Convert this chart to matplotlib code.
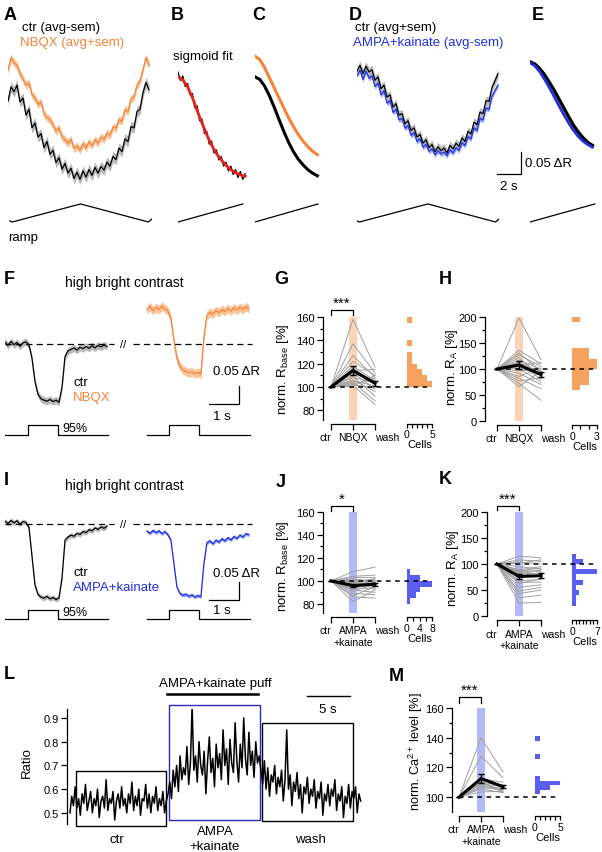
import numpy as np
import matplotlib
matplotlib.use('Agg')
import matplotlib.pyplot as plt
from matplotlib.patches import Rectangle

# ---------------- row 1: ramp responses (dR), one value every 0.25 s
a_ctr = [0.200, 0.232, 0.221, 0.236, 0.198, 0.207, 0.168, 0.181,
         0.139, 0.150, 0.118, 0.126, 0.094, 0.108, 0.079, 0.088,
         0.060, 0.071, 0.045, 0.058, 0.036, 0.047, 0.024, 0.038,
         0.022, 0.041, 0.027, 0.044, 0.031, 0.049, 0.036, 0.051,
         0.043, 0.061, 0.052, 0.074, 0.067, 0.093, 0.085, 0.114,
         0.108, 0.142, 0.139, 0.176, 0.181, 0.219, 0.242, 0.226]
a_nbqx = [0.270, 0.298, 0.287, 0.281, 0.262, 0.250, 0.236, 0.241,
          0.214, 0.207, 0.192, 0.198, 0.171, 0.162, 0.158, 0.146,
          0.131, 0.139, 0.118, 0.112, 0.104, 0.113, 0.092, 0.098,
          0.088, 0.103, 0.094, 0.107, 0.099, 0.112, 0.104, 0.118,
          0.113, 0.127, 0.122, 0.141, 0.138, 0.158, 0.154, 0.181,
          0.176, 0.205, 0.209, 0.236, 0.245, 0.272, 0.299, 0.281]
d_ctr = [0.268, 0.281, 0.262, 0.279, 0.266, 0.271, 0.247, 0.255,
         0.228, 0.236, 0.209, 0.214, 0.186, 0.194, 0.168, 0.171,
         0.148, 0.155, 0.133, 0.139, 0.118, 0.124, 0.104, 0.112,
         0.094, 0.101, 0.085, 0.096, 0.087, 0.093, 0.082, 0.099,
         0.091, 0.104, 0.097, 0.116, 0.108, 0.131, 0.125, 0.152,
         0.146, 0.175, 0.171, 0.201, 0.199, 0.231, 0.246, 0.262]
d_ampa = [0.258, 0.270, 0.249, 0.268, 0.252, 0.257, 0.233, 0.241,
          0.214, 0.223, 0.195, 0.201, 0.174, 0.181, 0.157, 0.160,
          0.138, 0.144, 0.122, 0.128, 0.108, 0.114, 0.095, 0.101,
          0.086, 0.091, 0.078, 0.087, 0.080, 0.084, 0.076, 0.089,
          0.082, 0.094, 0.088, 0.105, 0.099, 0.119, 0.114, 0.139,
          0.133, 0.160, 0.157, 0.184, 0.181, 0.211, 0.224, 0.236]
# B: first half of ctr, every 0.2 s, and its sigmoid fit every 0.4 s
b_ctr = [0.266, 0.247, 0.257, 0.233, 0.240, 0.214, 0.217, 0.184, 0.189, 0.155,
         0.159, 0.126, 0.131, 0.102, 0.109, 0.082, 0.089, 0.066, 0.074, 0.052,
         0.061, 0.041, 0.052, 0.033, 0.044, 0.026, 0.040, 0.022, 0.035]
b_fit = [0.255, 0.248, 0.232, 0.208, 0.178, 0.150, 0.123, 0.100,
         0.081, 0.066, 0.054, 0.044, 0.037, 0.032, 0.029]
# C, E: fitted curves every 0.4 s
c_ctr = [0.255, 0.249, 0.234, 0.212, 0.186, 0.158, 0.131,
         0.106, 0.085, 0.068, 0.055, 0.044, 0.036, 0.030]
c_nbqx = [0.302, 0.294, 0.276, 0.253, 0.230, 0.207, 0.184,
          0.162, 0.142, 0.124, 0.109, 0.096, 0.086, 0.078]
e_ctr = [0.289, 0.284, 0.274, 0.260, 0.243, 0.225, 0.205,
         0.185, 0.165, 0.146, 0.130, 0.117, 0.106, 0.099]
e_ampa = [0.287, 0.280, 0.267, 0.250, 0.231, 0.211, 0.190,
          0.170, 0.151, 0.134, 0.120, 0.109, 0.101, 0.095]
ramp_t = [0, 0.2, 5.9, 11.55, 11.8]
ramp_lvl = [0.06, 0, 1, 0, 0.15]

# ---------------- step responses (dR), every 0.1 s
f_ctr = [0.005, -0.004, 0.007, -0.002, 0.004, -0.006, 0.003, 0.006, -0.003, -0.040,
         -0.105, -0.140, -0.152, -0.156, -0.159, -0.154, -0.160, -0.156, -0.162, -0.120,
         -0.035, -0.019, -0.015, -0.011, -0.017, -0.009, -0.013, -0.007, -0.012, -0.005,
         -0.011, -0.004, -0.008, -0.003, -0.007]
f_nbqx = [0.095, 0.104, 0.093, 0.101, 0.096, 0.105, 0.098, 0.092, 0.070, 0.010,
          -0.040, -0.062, -0.072, -0.076, -0.080, -0.077, -0.083, -0.079, -0.084, 0.020,
          0.080, 0.088, 0.083, 0.093, 0.087, 0.096, 0.090, 0.099, 0.091, 0.101,
          0.094, 0.102, 0.096, 0.104, 0.098]
i_ctr = [0.008, 0.001, 0.010, 0.003, 0.009, -0.001, 0.007, 0.004, -0.010, -0.090,
         -0.170, -0.196, -0.203, -0.206, -0.201, -0.208, -0.204, -0.210, -0.205, -0.150,
         -0.045, -0.036, -0.031, -0.034, -0.026, -0.029, -0.021, -0.024, -0.016, -0.019,
         -0.011, -0.015, -0.008, -0.012, -0.006]
i_ampa = [-0.020, -0.026, -0.018, -0.024, -0.019, -0.027, -0.021, -0.030, -0.045, -0.110,
          -0.175, -0.193, -0.198, -0.195, -0.201, -0.197, -0.203, -0.199, -0.202, -0.110,
          -0.052, -0.047, -0.055, -0.045, -0.050, -0.041, -0.047, -0.038, -0.044, -0.035,
          -0.040, -0.031, -0.036, -0.027, -0.030]
stim_t = [0, 0.75, 0.75, 1.75, 1.75, 3.43]
stim_on = [0, 0, 1, 1, 0, 0]

# ---------------- population data, % of ctr (ctr = 100)
g_nbqx = [158, 137, 127, 122, 118, 116, 114, 112, 111, 109, 108, 106, 105, 104, 103, 102, 101, 100.5]
g_wash = [117, 112, 108, 110, 105, 103, 115, 98, 107, 92, 104, 96, 101, 88, 106, 99, 85, 110]
h_nbqx = [198, 136, 131, 127, 122, 117, 114, 111, 108, 104, 101, 97, 92, 86, 82, 77, 72, 66]
h_wash = [118, 110, 95, 105, 85, 100, 92, 80, 112, 88, 75, 97, 70, 102, 62, 83, 40, 96]
j_ampa = [108, 104, 103, 101.5, 100.5, 99.5, 99, 98.5, 98, 97.5, 97, 96, 95.5, 94, 93, 92, 91, 89, 87, 86, 82]
j_wash = [112, 105, 103, 100, 99, 101, 97, 95, 102, 98, 94, 100, 96, 93, 99, 90, 97, 88, 95, 85, 92]
k_ampa = [115, 108, 104, 101, 95, 89, 88, 87, 86, 84, 83, 81, 75, 68, 65, 62, 55, 48, 43, 35, 25]
k_wash = [112, 105, 100, 108, 90, 95, 85, 92, 80, 88, 75, 82, 78, 70, 65, 72, 60, 55, 50, 40, 26]
m_ampa = [103.5, 105.5, 106.5, 107, 108.5, 109, 109.5, 110, 110.5, 112.5, 127.5, 140]
m_wash = [104, 103, 105, 106, 104, 107, 105, 108, 103, 110, 113, 117]

# ---------------- L: Ca ratio trace, every 0.2 s
l_ctr = [0.50, 0.57, 0.53, 0.61, 0.52, 0.56, 0.49, 0.58, 0.54, 0.62,
         0.51, 0.55, 0.59, 0.50, 0.56, 0.53, 0.60, 0.48, 0.55, 0.57,
         0.52, 0.64, 0.51, 0.56, 0.54, 0.59, 0.47, 0.55, 0.58, 0.52,
         0.61, 0.53, 0.56, 0.50, 0.58, 0.54, 0.63, 0.51, 0.57, 0.53,
         0.60, 0.49, 0.56, 0.55, 0.62, 0.52, 0.58, 0.50, 0.57, 0.54,
         0.61, 0.51, 0.56, 0.53, 0.59, 0.50, 0.55]
l_ampa = [0.58, 0.63, 0.56, 0.68, 0.61, 0.70, 0.59, 0.74, 0.64, 0.69,
          0.66, 0.78, 0.62, 0.71, 0.95, 0.68, 0.74, 0.63, 0.80, 0.70,
          0.66, 0.76, 0.58, 0.72, 0.82, 0.67, 0.73, 0.61, 0.79, 0.69,
          0.75, 0.64, 0.85, 0.70, 0.77, 0.62, 0.81, 0.71, 0.67, 0.88,
          0.72, 0.63, 0.79, 0.69, 0.90, 0.73, 0.66, 0.84, 0.70, 0.76,
          0.65, 0.80, 0.71, 0.74]
l_wash = [0.68, 0.62, 0.72, 0.60, 0.69, 0.57, 0.66, 0.63, 0.70, 0.58,
          0.65, 0.61, 0.68, 0.55, 0.64, 0.85, 0.60, 0.66, 0.53, 0.63,
          0.59, 0.67, 0.56, 0.62, 0.50, 0.61, 0.58, 0.65, 0.54, 0.60,
          0.57, 0.64, 0.52, 0.59, 0.56, 0.63, 0.49, 0.58, 0.55, 0.62,
          0.53, 0.60, 0.57, 0.64, 0.51, 0.58, 0.55, 0.61, 0.48, 0.57,
          0.54, 0.62, 0.52, 0.59, 0.56, 0.61, 0.50, 0.58, 0.55]
# analysis windows (s, ratio): ctr, AMPA+kainate, wash
l_boxes = [(0.7, 11.2, 0.445, 0.678), (11.5, 22.1, 0.470, 0.955), (22.3, 32.9, 0.466, 0.879)]
puff_t = [11.3, 21.9]

ORANGE = '#F5843A'
ORANGE_LT = '#F9C49A'
ORANGE_COL = '#FBD3B6'
ORANGE_HIST = '#F5A25E'
BLUE = '#2030E0'
BLUE_LT = '#9AA4F2'
BLUE_COL = '#B5B8F6'
BLUE_HIST = '#5A5EF0'
GRAY = '#A0A0A0'

plt.rcParams['font.family'] = ['Liberation Sans', 'DejaVu Sans']
plt.rcParams['mathtext.fontset'] = 'custom'
plt.rcParams['mathtext.rm'] = 'Liberation Sans'
plt.rcParams['mathtext.it'] = 'Liberation Sans:italic'
plt.rcParams['axes.linewidth'] = 0.9
plt.rcParams['axes.facecolor'] = 'none'
plt.rcParams['xtick.labelsize'] = 7.5
plt.rcParams['ytick.labelsize'] = 8

W, H = 602, 853
fig = plt.figure(figsize=(W / 100, H / 100), dpi=100)


def px_axes(x0, y0, x1, y1):
    return fig.add_axes([x0 / W, 1 - y1 / H, (x1 - x0) / W, (y1 - y0) / H])


def px_text(x, y, s, **kw):
    kw.setdefault('fontsize', 9.5)
    kw.setdefault('va', 'center')
    return fig.text(x / W, 1 - y / H, s, **kw)


def trace_axes(x0, x1, y0, y1, zero, px_s, px_dr):
    ax = px_axes(x0, y0, x1, y1)
    ax.set_xlim(0, (x1 - x0) / px_s)
    ax.set_ylim((zero - y1) / px_dr, (zero - y0) / px_dr)
    ax.axis('off')
    return ax


def trace(ax, t, v, color, band_color=None, sem=0.0, lw=0.9):
    v = np.asarray(v)
    if band_color:
        ax.fill_between(t, v - sem, v + sem, color=band_color, lw=0)
    ax.plot(t, v, color=color, lw=lw)


def scalebar(ax, x, y, dx, dy):
    ax.plot([x - dx, x, x], [y, y, y + dy], color='k', lw=0.9, clip_on=False)


for lab, x, y in [('A', 4, 7), ('B', 171, 7), ('C', 252, 7), ('D', 349, 7), ('E', 532, 7),
                  ('F', 4, 271), ('G', 274, 271), ('H', 439, 271),
                  ('I', 4, 472), ('J', 276, 474), ('K', 439, 471),
                  ('L', 4, 666), ('M', 389, 668)]:
    px_text(x, y, lab, fontsize=13, fontweight='bold', va='top')

# ---------------- row 1
R1 = (45, 232, 190, 12, 440)
RAMP_BASE, RAMP_H = -0.075, 0.041

axA = trace_axes(8, 152, *R1)
tA = np.arange(len(a_ctr)) * 0.25
trace(axA, tA, a_ctr, 'k', '#B8B8B8', 0.012)
trace(axA, tA, a_nbqx, ORANGE, ORANGE_LT, 0.009)
axA.plot(np.array(ramp_t) + 0.15, RAMP_BASE + RAMP_H * np.array(ramp_lvl), 'k', lw=0.9)
px_text(22, 28, 'ctr (avg-sem)')
px_text(20, 43, 'NBQX (avg+sem)', color=ORANGE)
px_text(8, 238, 'ramp')

axB = trace_axes(178, 250, *R1)
trace(axB, np.arange(len(b_ctr)) * 0.2, b_ctr, 'k')
axB.plot(np.arange(len(b_fit)) * 0.4, b_fit, color='#E3241C', lw=2)
axB.plot([0, 5.4], [RAMP_BASE, RAMP_BASE + RAMP_H], 'k', lw=0.9)
px_text(173, 57, 'sigmoid fit')

axC = trace_axes(255, 325, *R1)
tC = np.arange(len(c_ctr)) * 0.4
axC.plot(tC, c_nbqx, color=ORANGE, lw=2.2)
axC.plot(tC, c_ctr, color='k', lw=2.2)
axC.plot([0, 5.25], [RAMP_BASE, RAMP_BASE + RAMP_H], 'k', lw=0.9)

axD = trace_axes(357, 500, *R1)
tD = np.arange(len(d_ctr)) * 0.25
trace(axD, tD, d_ctr, 'k', '#B8B8B8', 0.010)
trace(axD, tD, d_ampa, BLUE, BLUE_LT, 0.006)
axD.plot(ramp_t, RAMP_BASE + RAMP_H * np.array(ramp_lvl), 'k', lw=0.9)
px_text(355, 28, 'ctr (avg+sem)')
px_text(353, 43, 'AMPA+kainate (avg-sem)', color=BLUE)

axE = trace_axes(530, 600, *R1)
tE = np.arange(len(e_ctr)) * 0.4
axE.plot(tE, e_ctr, color='k', lw=2.4)
axE.plot(tE, e_ampa, color=BLUE, lw=2.0)
axE.plot([0, 5.4], [RAMP_BASE, RAMP_BASE + RAMP_H], 'k', lw=0.9)
scalebar(axE, -0.75, 0.034, 2, 0.05)
px_text(525, 164, '0.05 ΔR')
px_text(500, 187, '2 s')


# ---------------- rows 2, 3: step responses
def step_panel(y0, y1, zero, ctr, drug, drug_color, drug_band, sems, stim_base, stim_h,
               bar_y, title_y, lab_y, drug_label):
    ax = trace_axes(5, 255, y0, y1, zero, 30, 360)
    t = np.arange(len(ctr)) * 0.1
    shift = 4.73
    ax.plot([0, 3.62], [0, 0], 'k', lw=0.9, dashes=(5, 3.3))
    ax.plot([4.25, 8.23], [0, 0], 'k', lw=0.9, dashes=(5, 3.3))
    ax.text(3.93, 0, '//', ha='center', va='center', fontsize=8)
    trace(ax, t, ctr, 'k', '#B8B8B8', sems[0])
    trace(ax, t + shift, drug, drug_color, drug_band, sems[1])
    for s in (0, shift):
        ax.plot(np.array(stim_t) + s, stim_base + stim_h * np.array(stim_on), 'k', lw=0.9)
    ax.text(1.9, stim_base + 0.004, '95%', fontsize=9, va='bottom')
    scalebar(ax, 7.8, bar_y, 1, 0.05)
    px_text(65, title_y, 'high bright contrast', fontsize=10)
    px_text(74, lab_y, 'ctr')
    px_text(73, lab_y + 15, drug_label, color=drug_color)
    return ax


axF = step_panel(295, 445, 345, f_ctr, f_nbqx, ORANGE, ORANGE_LT, (0.010, 0.012),
                 -0.2528, 0.0278, -0.1667, 283, 383, 'NBQX')
px_text(213, 372, '0.05 ΔR')
px_text(213, 417, '1 s')
axI = step_panel(495, 625, 525, i_ctr, i_ampa, BLUE, BLUE_LT, (0.007, 0.005),
                 -0.2639, 0.025, -0.211, 486, 573, 'AMPA+kainate')
px_text(213, 574, '0.05 ΔR')
px_text(213, 611, '1 s')


# ---------------- population panels
def sem(v):
    return np.std(v, ddof=1) / np.sqrt(len(v))


def stats_panel(spine_x, y_top, y_bot, first_x, ylim, yticks, yminor, xlabels,
                drug, wash, col_color, dash_end):
    step = 22
    right = first_x + 2 * step + 10
    ax = px_axes(spine_x, y_top, right, y_bot)
    ax.set_xlim((spine_x - first_x) / step, (right - first_x) / step)
    ax.set_ylim(*ylim)
    ax.axvspan(0.8, 1.2, color=col_color, lw=0, zorder=1)
    for d, w in zip(drug, wash):
        ax.plot([0, 1, 2], [100, d, w], color=GRAY, lw=0.7, zorder=2)
    ax.plot([0, (dash_end - first_x) / step], [100, 100], color='k', lw=1.1,
            dashes=(3, 3), clip_on=False, zorder=3)
    ax.errorbar([0, 1, 2], [100, np.mean(drug), np.mean(wash)],
                yerr=[0, sem(drug), sem(wash)], color='k', lw=2.2,
                elinewidth=1, capsize=2.5, capthick=1, zorder=4)
    ax.spines[['top', 'right']].set_visible(False)
    ax.spines['bottom'].set_bounds(0, 2)
    ax.spines['bottom'].set_position(('outward', 3))
    ax.set_xticks([0, 1, 2], xlabels)
    labels = ax.get_xticklabels()
    labels[0].set_ha('right')
    labels[2].set_ha('left')
    ax.set_yticks(yticks)
    ax.set_yticks(yminor, minor=True)
    ax.tick_params(length=4, width=0.9, pad=2)
    ax.tick_params(which='minor', length=2.5, width=0.9)
    return ax


def hist_panel(x0, x1, y_top, y_bot, ylim, values, bins, xmax, xticks, xlabels, color):
    ax = px_axes(x0, y_top, x1, y_bot)
    counts, edges = np.histogram(values, bins=bins)
    ax.barh(edges[:-1], counts, height=np.diff(edges), align='edge', color=color, lw=0)
    ax.set_xlim(0, xmax)
    ax.set_ylim(*ylim)
    ax.spines[['top', 'right', 'left']].set_visible(False)
    ax.spines['bottom'].set_position(('outward', 3))
    ax.set_yticks([])
    ax.set_xticks(xticks, xlabels)
    ax.tick_params(length=3, width=0.9, pad=1)
    ax.set_xlabel('Cells', fontsize=8, labelpad=0)
    return ax


def sig(ax, y0, y1, label):
    ax.plot([0, 0, 1, 1], [y0, y1, y1, y0], 'k', lw=0.9, clip_on=False)
    ax.text(0.5, y1, label, ha='center', va='bottom', fontsize=11)


AMPA_LABELS = ['ctr', 'AMPA\n+kainate', 'wash']

hist_panel(407, 432, 318, 420.5, (72, 160), g_nbqx, np.arange(100, 165, 5), 5,
           range(6), ['0', '', '', '', '', '5'], ORANGE_HIST)
axG = stats_panel(323, 318, 420.5, 331, (72, 160), [80, 100, 120, 140, 160], [90, 110, 130, 150],
                  ['ctr', 'NBQX', 'wash'], g_nbqx, g_wash, ORANGE_COL, 432)
sig(axG, 161.5, 166, '***')
px_text(283, 369, 'norm. R$_{\\rm base}$ [%]', rotation=90, ha='center')

hist_panel(572, 597, 318, 422, (0, 200), h_nbqx, np.arange(60, 210, 10), 3,
           range(4), ['0', '', '', '3'], ORANGE_HIST)
axH = stats_panel(485, 318, 422, 497, (0, 200), [0, 50, 100, 150, 200], [25, 75, 125, 175],
                  ['ctr', 'NBQX', 'wash'], h_nbqx, h_wash, ORANGE_COL, 597)
px_text(452, 367, 'norm. R$_{\\rm A}$ [%]', rotation=90, ha='center')

hist_panel(407, 432, 513, 614, (72, 160), j_ampa, np.arange(80, 115, 5), 8,
           [0, 2, 4, 6, 8], ['0', '', '4', '', '8'], BLUE_HIST)
axJ = stats_panel(323, 513, 614, 331, (72, 160), [80, 100, 120, 140, 160], [90, 110, 130, 150],
                  AMPA_LABELS, j_ampa, j_wash, BLUE_COL, 432)
sig(axJ, 160.8, 165.2, '*')
px_text(283, 566, 'norm. R$_{\\rm base}$ [%]', rotation=90, ha='center')

hist_panel(572, 597, 513, 617, (0, 200), k_ampa, np.arange(20, 130, 10), 7,
           range(8), ['0', '', '', '', '', '', '', '7'], BLUE_HIST)
axK = stats_panel(487, 513, 617, 497, (0, 200), [0, 50, 100, 150, 200], [25, 75, 125, 175],
                  AMPA_LABELS, k_ampa, k_wash, BLUE_COL, 597)
sig(axK, 203, 212, '***')
px_text(453, 568, 'norm. R$_{\\rm A}$ [%]', rotation=90, ha='center')

hist_panel(535, 560, 709, 813, (90, 160), m_ampa, np.arange(102, 147, 3), 5,
           range(6), ['0', '', '', '', '', '5'], BLUE_HIST)
axM = stats_panel(452, 709, 813, 459, (90, 160), [100, 120, 140, 160], [110, 130, 150],
                  AMPA_LABELS, m_ampa, m_wash, BLUE_COL, 557)
sig(axM, 163.5, 167.5, '***')
px_text(416, 752, 'norm. Ca$^{2+}$ level [%]', rotation=90, ha='center', fontsize=9.2)

# ---------------- L
axL = px_axes(67, 710, 362, 825)
l_all = l_ctr + l_ampa + l_wash
tL = np.arange(len(l_all)) * 0.2
axL.plot(tL, l_all, color='k', lw=1.1)
axL.set_xlim(-3 / 8.6, 292 / 8.6)
axL.set_ylim(0.453, 0.938)
axL.spines[['top', 'right', 'bottom']].set_visible(False)
axL.set_xticks([])
axL.set_yticks([0.5, 0.6, 0.7, 0.8, 0.9])
axL.tick_params(length=4, width=0.9, pad=2)
for (t0, t1, v0, v1), ec in zip(l_boxes, ['k', '#2a2ab8', 'k']):
    axL.add_patch(Rectangle((t0, v0), t1 - t0, v1 - v0, fill=False, ec=ec, lw=1, clip_on=False))
axL.plot(puff_t, [1.0, 1.0], 'k', lw=1.8, clip_on=False)
axL.plot([27.6, 32.6], [0.993, 0.993], 'k', lw=1, clip_on=False)
px_text(215, 684, 'AMPA+kainate puff', ha='center')
px_text(328, 710, '5 s', ha='center')
px_text(27, 763, 'Ratio', rotation=90, ha='center')
px_text(117, 840, 'ctr', ha='center')
px_text(215, 832, 'AMPA', ha='center')
px_text(215, 847, '+kainate', ha='center')
px_text(310, 840, 'wash', ha='center')

fig.savefig('out.png', dpi=100)
